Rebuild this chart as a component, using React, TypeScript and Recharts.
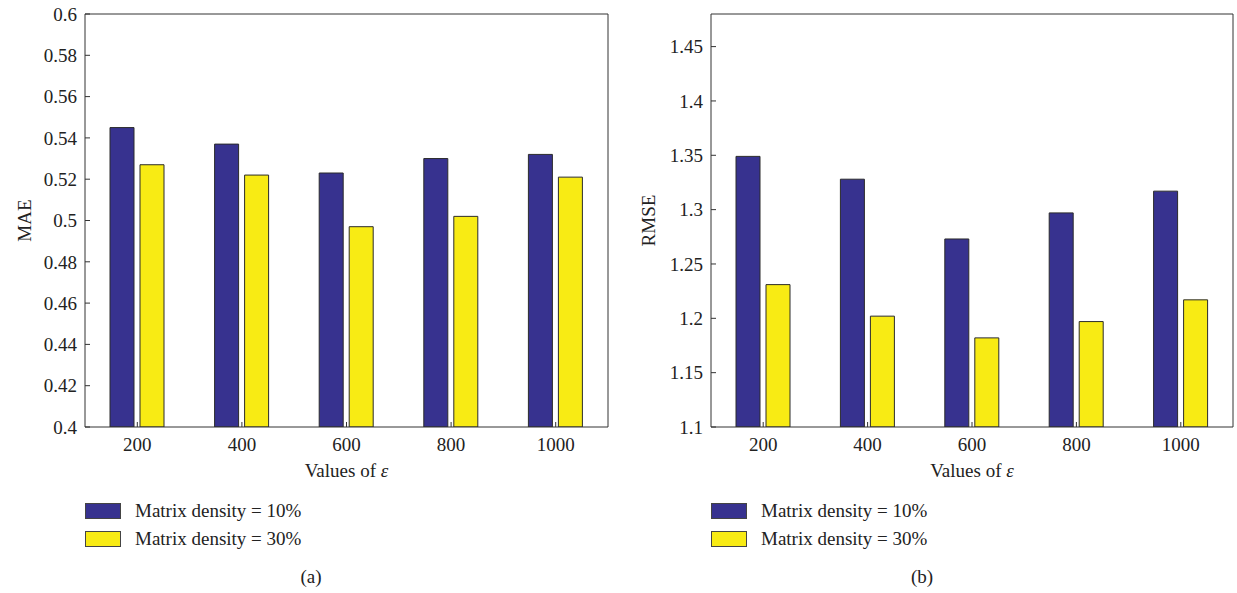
import React from 'react';
import { BarChart, Bar, XAxis, YAxis, Legend, Label } from 'recharts';

const epsilons = ['200', '400', '600', '800', '1000'];
const maeDensity10 = [0.545, 0.537, 0.523, 0.53, 0.532];
const maeDensity30 = [0.527, 0.522, 0.497, 0.502, 0.521];
const rmseDensity10 = [1.349, 1.328, 1.273, 1.297, 1.317];
const rmseDensity30 = [1.231, 1.202, 1.182, 1.197, 1.217];
const maeTicks = [0.4, 0.42, 0.44, 0.46, 0.48, 0.5, 0.52, 0.54, 0.56, 0.58, 0.6];
const rmseTicks = [1.1, 1.15, 1.2, 1.25, 1.3, 1.35, 1.4, 1.45];
const seriesNames = ['Matrix density = 10%', 'Matrix density = 30%'];

const FONT = '"Liberation Serif", "Times New Roman", serif';
const BLUE = '#37328f';
const YELLOW = '#f8eb14';
const INK = '#222';

const renderLegend = (props: any) => {
  const items = props.payload || [];
  return (
    <div style={{ fontFamily: FONT, fontSize: 19, color: INK }}>
      {items.map((it: any) => (
        <div key={it.value} style={{ display: 'flex', alignItems: 'center', height: 28 }}>
          <span
            style={{
              display: 'inline-block',
              width: 34,
              height: 14,
              background: it.color,
              border: '1px solid #444',
              marginRight: 14,
            }}
          />
          <span>{it.value}</span>
        </div>
      ))}
    </div>
  );
};

function Panel({ left, width, marginRight, yAxisWidth, a, b, domain, ticks, yLabel, yLabelOffset, caption, captionX }: any) {
  const rows = epsilons.map((eps, i) => ({ eps, d10: a[i], d30: b[i] }));
  const tickStyle = { fill: INK, fontSize: 19, fontFamily: FONT };

  const xTitle = (props: any) => {
    const vb = props.viewBox || {};
    return (
      <text x={vb.x + vb.width / 2} y={477} textAnchor="middle" fontFamily={FONT} fontSize={19} fill={INK}>
        Values of <tspan fontStyle="italic">ε</tspan>
      </text>
    );
  };

  return (
    <div style={{ position: 'absolute', left, top: 0, width, height: 593 }}>
      <BarChart
        width={width}
        height={593}
        data={rows}
        margin={{ top: 13, right: marginRight - 1, bottom: 136, left: 0 }}
        barGap={6}
        barSize={24}
      >
        <XAxis
          dataKey="eps"
          height={30}
          interval={0}
          tickSize={-5}
          tickMargin={16}
          stroke="#333"
          tick={tickStyle}
        >
          <Label content={xTitle} />
        </XAxis>
        {/* box frame: top and right edges with inward ticks */}
        <XAxis xAxisId="top" orientation="top" dataKey="eps" height={1} interval={0} tickSize={-5} tick={false} stroke="#333" />
        <YAxis
          width={yAxisWidth}
          domain={domain}
          ticks={ticks}
          interval={0}
          allowDataOverflow
          tickSize={-5}
          tickMargin={13}
          stroke="#333"
          tick={tickStyle}
        >
          <Label
            value={yLabel}
            angle={-90}
            position="insideLeft"
            offset={yLabelOffset}
            style={{ textAnchor: 'middle', fontFamily: FONT, fontSize: 19, fill: INK }}
          />
        </YAxis>
        <YAxis
          yAxisId="right"
          orientation="right"
          width={1}
          domain={domain}
          ticks={ticks}
          interval={0}
          allowDataOverflow
          tickSize={-5}
          tick={false}
          stroke="#333"
        />
        <Bar dataKey="d10" name={seriesNames[0]} fill={BLUE} stroke="#2b2b2b" strokeWidth={1} isAnimationActive={false} />
        <Bar dataKey="d30" name={seriesNames[1]} fill={YELLOW} stroke="#2b2b2b" strokeWidth={1} isAnimationActive={false} />
        <Legend
          layout="vertical"
          align="center"
          verticalAlign="middle"
          wrapperStyle={{ left: yAxisWidth, top: 497, width: 320 }}
          content={renderLegend}
        />
      </BarChart>
      <div
        style={{
          position: 'absolute',
          left: captionX - 30,
          width: 60,
          top: 566,
          textAlign: 'center',
          fontFamily: FONT,
          fontSize: 19,
          color: INK,
        }}
      >
        {caption}
      </div>
    </div>
  );
}

export default function App() {
  return (
    <div style={{ position: 'absolute', left: 0, top: 0, width: 1237, height: 593, background: '#fff' }}>
      <Panel
        left={0}
        width={620}
        marginRight={12}
        yAxisWidth={85}
        a={maeDensity10}
        b={maeDensity30}
        domain={[0.4, 0.6]}
        ticks={maeTicks}
        yLabel="MAE"
        yLabelOffset={24}
        caption="(a)"
        captionX={311}
      />
      <Panel
        left={620}
        width={617}
        marginRight={4}
        yAxisWidth={91}
        a={rmseDensity10}
        b={rmseDensity30}
        domain={[1.1, 1.48]}
        ticks={rmseTicks}
        yLabel="RMSE"
        yLabelOffset={28}
        caption="(b)"
        captionX={302}
      />
    </div>
  );
}
